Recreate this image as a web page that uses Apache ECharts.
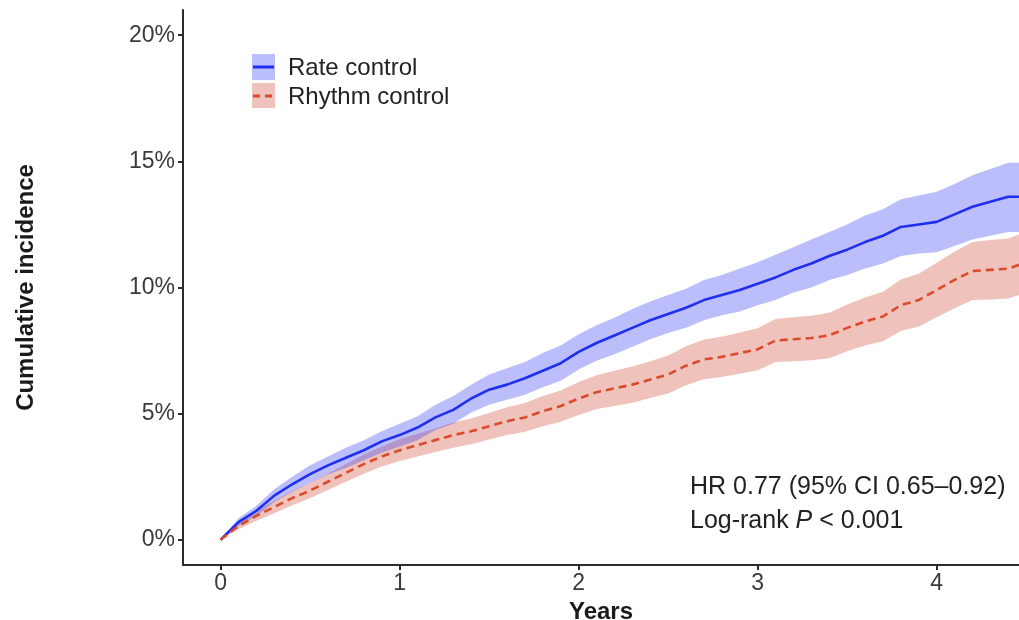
<!DOCTYPE html>
<html>
<head>
<meta charset="utf-8">
<title>Cumulative incidence: rate vs rhythm control</title>
<script src="https://cdn.jsdelivr.net/npm/echarts@6/dist/echarts.min.js"></script>
<style>
  html, body { margin: 0; padding: 0; background: #fff; }
  #chart { width: 1019px; height: 620px; }
</style>
</head>
<body>
<div id="chart"></div>
<script>
// Follow-up time (years)
const years = [0, 0.1, 0.2, 0.3, 0.4, 0.5, 0.6, 0.7, 0.8, 0.9,
  1.0, 1.1, 1.2, 1.3, 1.4, 1.5, 1.6, 1.7, 1.8, 1.9,
  2.0, 2.1, 2.2, 2.3, 2.4, 2.5, 2.6, 2.7, 2.8, 2.9,
  3.0, 3.1, 3.2, 3.3, 3.4, 3.5, 3.6, 3.7, 3.8, 3.9,
  4.0, 4.1, 4.2, 4.3, 4.4, 4.46];

// Rate control: cumulative incidence (%) and 95% CI
const rateEst = [0, 0.7, 1.15, 1.75, 2.2, 2.6, 2.95, 3.25, 3.55, 3.9,
  4.15, 4.45, 4.85, 5.15, 5.6, 5.95, 6.15, 6.4, 6.7, 7.0,
  7.45, 7.8, 8.1, 8.4, 8.7, 8.95, 9.2, 9.5, 9.7, 9.9,
  10.15, 10.4, 10.7, 10.95, 11.25, 11.5, 11.8, 12.05, 12.4, 12.5,
  12.6, 12.9, 13.2, 13.4, 13.6, 13.6];
const rateLower = [0, 0.55, 0.95, 1.5, 1.9, 2.25, 2.6, 2.85, 3.15, 3.45,
  3.7, 3.95, 4.35, 4.6, 5.05, 5.35, 5.55, 5.75, 6.05, 6.3,
  6.75, 7.1, 7.35, 7.65, 7.95, 8.2, 8.4, 8.7, 8.9, 9.05,
  9.3, 9.5, 9.8, 10.0, 10.3, 10.5, 10.75, 10.95, 11.25, 11.35,
  11.4, 11.65, 11.9, 12.05, 12.2, 12.2];
const rateUpper = [0, 0.85, 1.35, 2.0, 2.5, 2.95, 3.3, 3.65, 3.95, 4.3,
  4.6, 4.9, 5.35, 5.7, 6.15, 6.55, 6.8, 7.05, 7.4, 7.7,
  8.15, 8.5, 8.8, 9.15, 9.45, 9.7, 9.95, 10.3, 10.5, 10.75,
  11.0, 11.3, 11.6, 11.9, 12.2, 12.5, 12.85, 13.1, 13.5, 13.65,
  13.8, 14.1, 14.45, 14.7, 14.95, 14.95];

// Rhythm control: cumulative incidence (%) and 95% CI
const rhythmEst = [0, 0.55, 0.95, 1.3, 1.65, 1.95, 2.3, 2.65, 3.0, 3.3,
  3.55, 3.75, 3.95, 4.15, 4.3, 4.5, 4.7, 4.85, 5.1, 5.3,
  5.6, 5.85, 6.0, 6.15, 6.35, 6.55, 6.9, 7.15, 7.25, 7.4,
  7.55, 7.9, 7.95, 8.0, 8.1, 8.4, 8.65, 8.85, 9.3, 9.5,
  9.9, 10.3, 10.65, 10.7, 10.75, 10.9];
const rhythmLower = [0, 0.42, 0.75, 1.05, 1.37, 1.65, 1.97, 2.3, 2.62, 2.9,
  3.12, 3.3, 3.48, 3.65, 3.79, 3.97, 4.15, 4.28, 4.5, 4.68,
  4.95, 5.18, 5.3, 5.43, 5.62, 5.8, 6.13, 6.36, 6.45, 6.58,
  6.72, 7.05, 7.08, 7.12, 7.2, 7.47, 7.7, 7.87, 8.28, 8.45,
  8.82, 9.18, 9.5, 9.52, 9.56, 9.7];
const rhythmUpper = [0, 0.68, 1.15, 1.55, 1.93, 2.25, 2.63, 3.0, 3.38, 3.7,
  3.98, 4.2, 4.42, 4.65, 4.81, 5.03, 5.25, 5.42, 5.7, 5.92,
  6.25, 6.52, 6.7, 6.87, 7.08, 7.3, 7.67, 7.94, 8.05, 8.22,
  8.38, 8.75, 8.82, 8.88, 9.0, 9.33, 9.6, 9.83, 10.32, 10.55,
  10.98, 11.42, 11.8, 11.88, 11.94, 12.1];

// Axis tick values
const xTicks = [0, 1, 2, 3, 4];
const yTicks = [0, 5, 10, 15, 20];

const groupNames = ['Rate control', 'Rhythm control'];

const RATE_LINE = '#1f2ff0';
const RATE_BAND = 'rgba(60, 70, 240, 0.35)';
const RHYTHM_LINE = '#db4a2b';
const RHYTHM_BAND = 'rgba(210, 80, 60, 0.35)';
const AXIS_COLOR = '#2b2b2b';
const TEXT_COLOR = '#3a3a3a';
const FONT = '"Liberation Sans", Arial, Helvetica, sans-serif';

const pairs = (ys) => years.map((t, i) => [t, ys[i]]);

// Confidence band drawn as one polygon: upper bound forward, lower bound back
function band(name, lo, hi, color, z) {
  return {
    name: name + ' 95% CI', type: 'custom', z: z, silent: true, clip: true,
    data: years.map((t, i) => [t, lo[i], hi[i]]),
    encode: { x: 0, y: [1, 2] },
    renderItem: (params, api) => {
      if (params.dataIndex !== 0) return null;
      const pts = [];
      for (let i = 0; i < years.length; i++) pts.push(api.coord([years[i], hi[i]]));
      for (let i = years.length - 1; i >= 0; i--) pts.push(api.coord([years[i], lo[i]]));
      return { type: 'polygon', shape: { points: pts }, style: { fill: color } };
    }
  };
}

const chart = echarts.init(document.getElementById('chart'), null, { renderer: 'canvas' });

const option = {
  animation: false,
  backgroundColor: '#ffffff',
  textStyle: { fontFamily: FONT },
  grid: { left: 183, right: 0, top: 10, bottom: 55, containLabel: false, outerBoundsMode: 'none' },
  xAxis: {
    type: 'value', min: -0.21, max: 4.46,
    name: 'Years', nameLocation: 'middle', nameGap: 34,
    nameTextStyle: { fontSize: 24, fontWeight: 'bold', color: '#1a1a1a', fontFamily: FONT },
    axisLine: { show: true, onZero: false, lineStyle: { color: AXIS_COLOR, width: 2 } },
    axisTick: { show: true, length: 5, customValues: xTicks, lineStyle: { color: AXIS_COLOR, width: 2 } },
    axisLabel: { customValues: xTicks, margin: 7, fontSize: 23, color: TEXT_COLOR, fontFamily: FONT },
    splitLine: { show: false }
  },
  yAxis: {
    type: 'value', min: -1, max: 21,
    name: 'Cumulative incidence', nameLocation: 'middle', nameGap: 145, nameRotate: 90,
    nameTextStyle: { fontSize: 24, fontWeight: 'bold', color: '#1a1a1a', fontFamily: FONT },
    axisLine: { show: true, onZero: false, lineStyle: { color: AXIS_COLOR, width: 2 } },
    axisTick: { show: true, length: 5, customValues: yTicks, lineStyle: { color: AXIS_COLOR, width: 2 } },
    axisLabel: { customValues: yTicks, margin: 8, fontSize: 23, color: TEXT_COLOR, fontFamily: FONT,
      formatter: (v) => v + '%' },
    splitLine: { show: false }
  },
  series: [
    band(groupNames[1], rhythmLower, rhythmUpper, RHYTHM_BAND, 1),
    band(groupNames[0], rateLower, rateUpper, RATE_BAND, 2),
    {
      name: groupNames[0], type: 'line', data: pairs(rateEst), symbol: 'none',
      lineStyle: { color: RATE_LINE, width: 2.6 }, z: 3
    },
    {
      name: groupNames[1], type: 'line', data: pairs(rhythmEst), symbol: 'none',
      lineStyle: { color: RHYTHM_LINE, width: 2.6, type: [8, 5] }, z: 4
    }
  ],
  graphic: [
    // Legend keys: band swatch with the line drawn through it
    { type: 'rect', shape: { x: 252, y: 54, width: 23, height: 26 }, style: { fill: RATE_BAND } },
    { type: 'line', shape: { x1: 253, y1: 67, x2: 274, y2: 67 }, style: { stroke: RATE_LINE, lineWidth: 3 } },
    { type: 'rect', shape: { x: 252, y: 83, width: 23, height: 25 }, style: { fill: RHYTHM_BAND } },
    { type: 'line', shape: { x1: 253, y1: 96, x2: 274, y2: 96 }, style: { stroke: RHYTHM_LINE, lineWidth: 3, lineDash: [7, 5] } },
    { type: 'text', x: 288, y: 68, style: { text: groupNames[0], fontSize: 24, fontFamily: FONT, fill: '#222', verticalAlign: 'middle' } },
    { type: 'text', x: 288, y: 97, style: { text: groupNames[1], fontSize: 24, fontFamily: FONT, fill: '#222', verticalAlign: 'middle' } },
    // Hazard ratio and log-rank test
    { type: 'text', x: 690, y: 487, style: { text: 'HR 0.77 (95% CI 0.65\u20130.92)', fontSize: 25, fontFamily: FONT, fill: '#222', verticalAlign: 'middle' } },
    { type: 'text', x: 690, y: 521, style: {
        text: 'Log-rank {i|P} < 0.001', fontSize: 25, fontFamily: FONT, fill: '#222', verticalAlign: 'middle',
        rich: { i: { fontStyle: 'italic', fontSize: 25, fontFamily: FONT, fill: '#222' } }
      } }
  ]
};

chart.setOption(option);
</script>
</body>
</html>
